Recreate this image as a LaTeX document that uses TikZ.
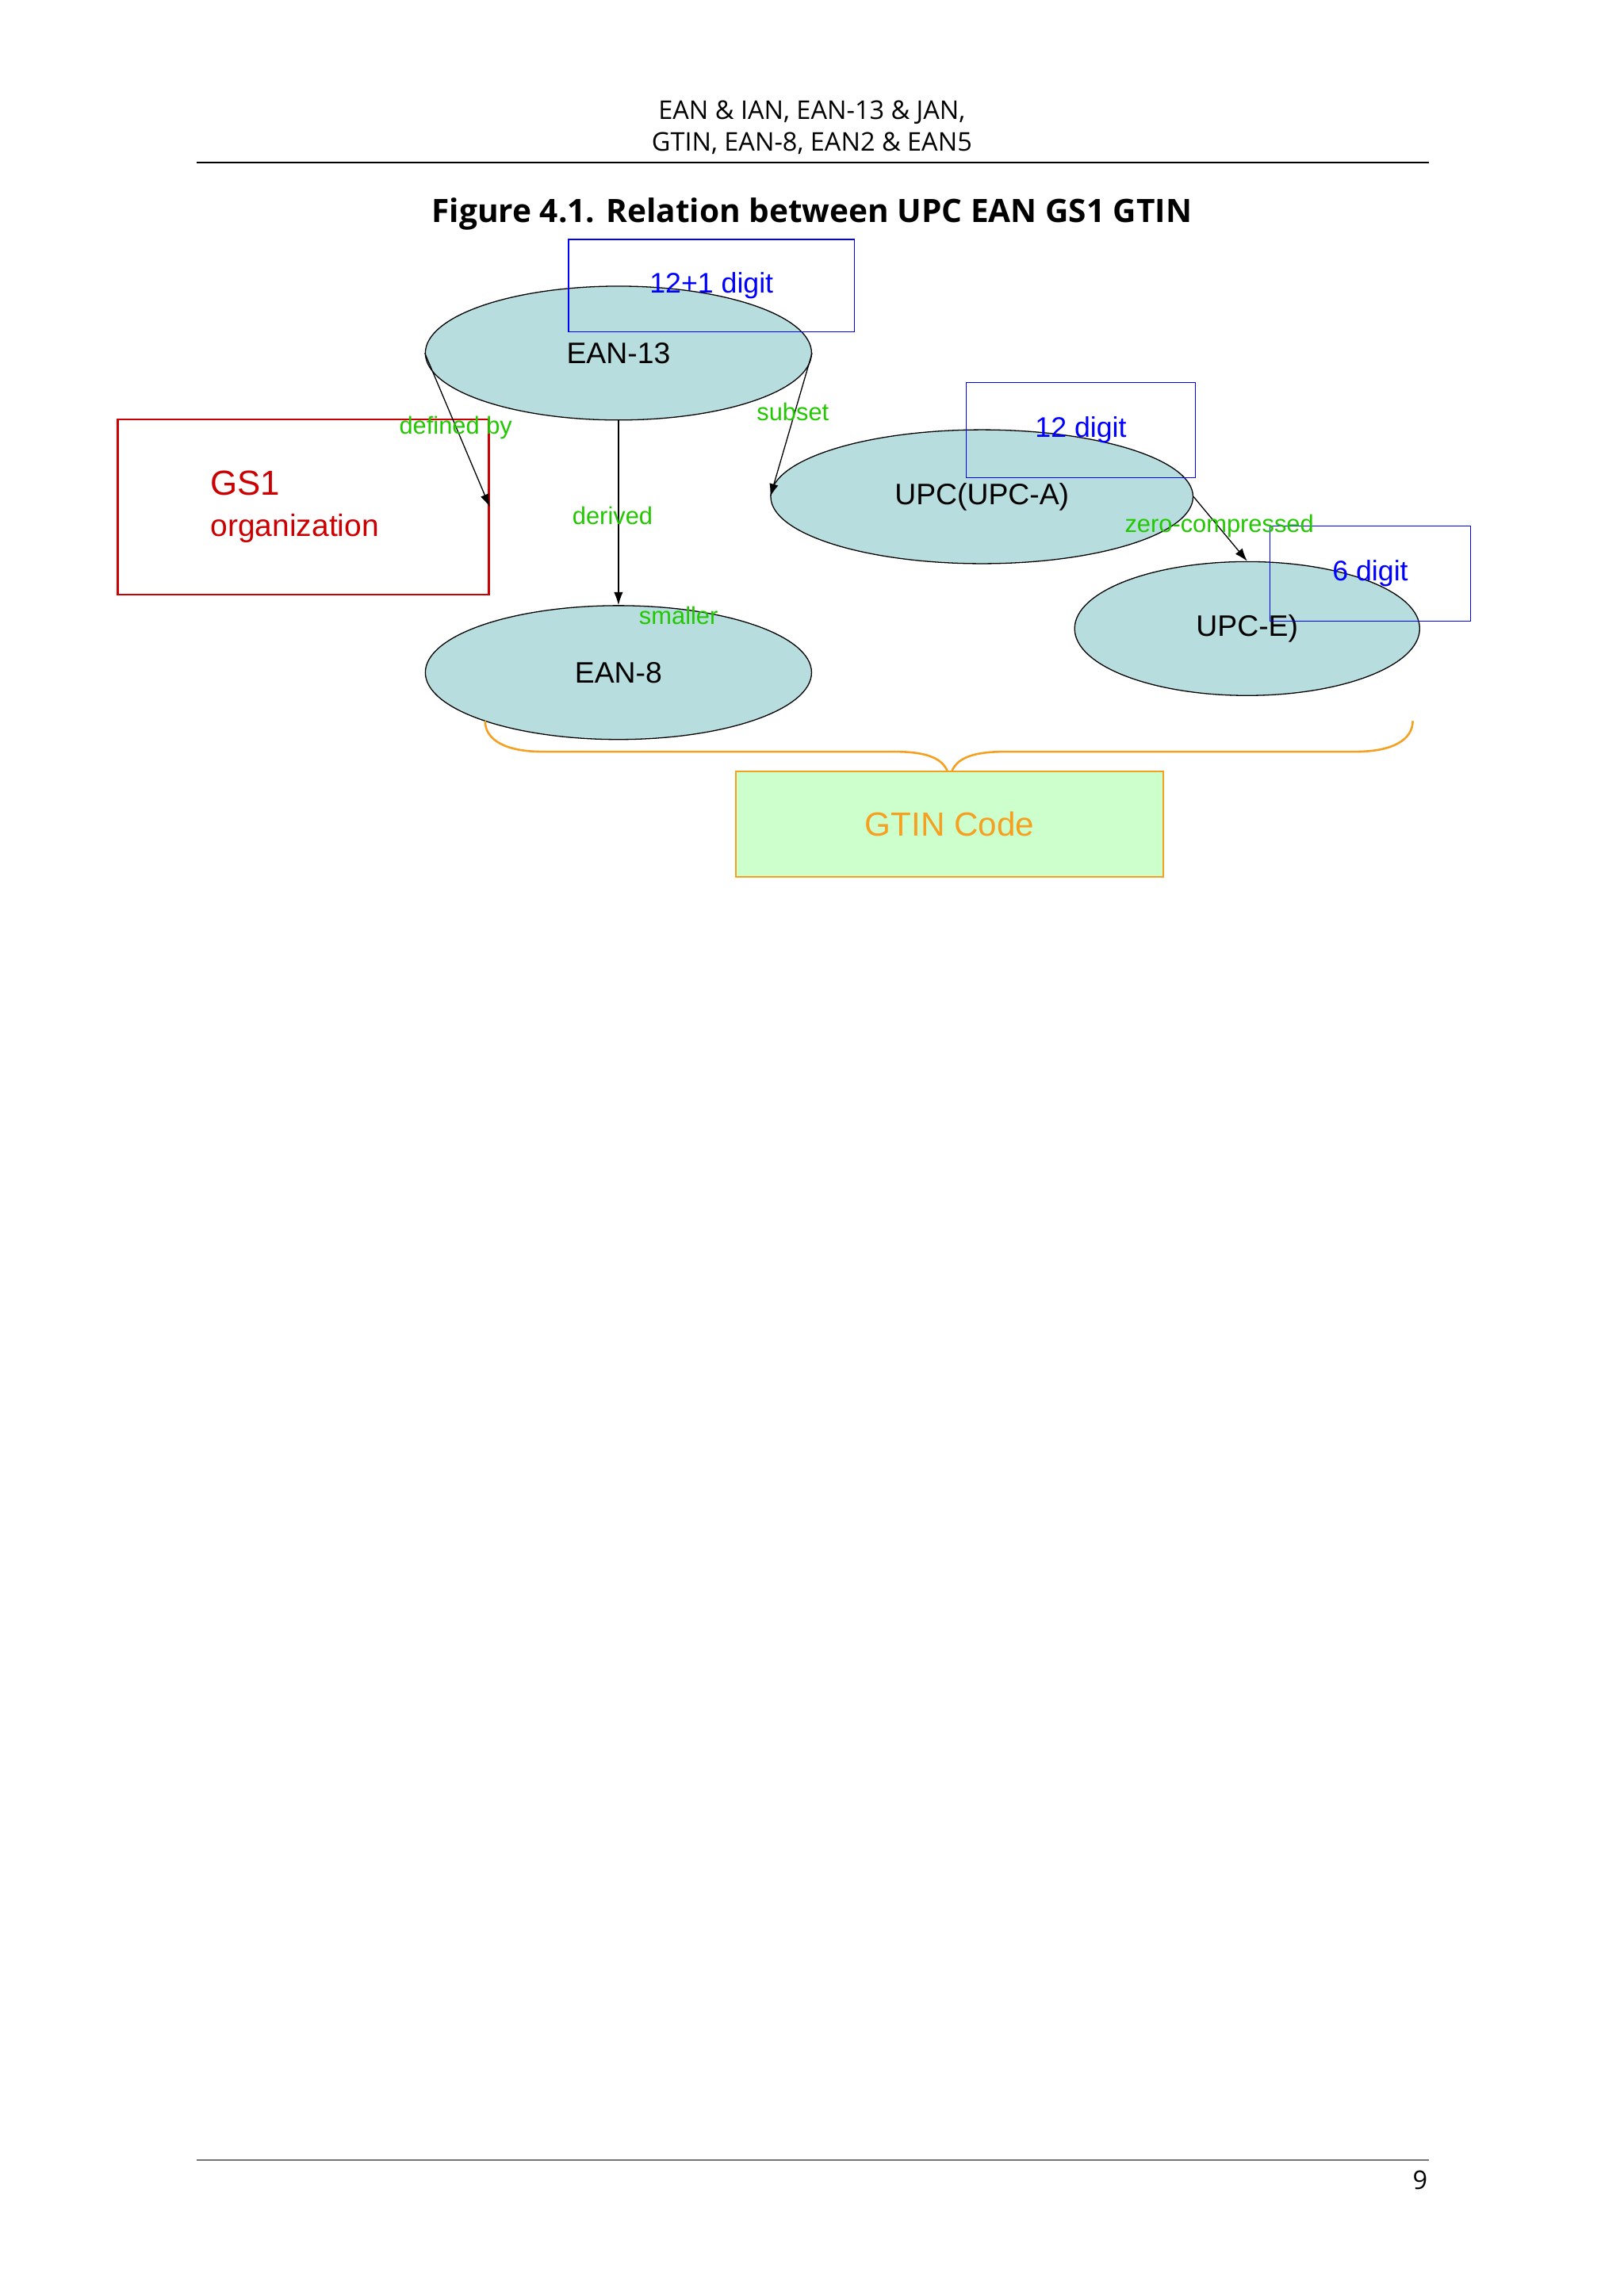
\documentclass[tikz,border=0pt]{standalone}
\usepackage{fontspec}
\setmainfont{Liberation Sans}
\newfontfamily\hdr{Open Sans}
\usetikzlibrary{arrows.meta,shapes.geometric}
\definecolor{ellf}{HTML}{B7DDDF}
\definecolor{grn}{HTML}{22C800}
\definecolor{org}{HTML}{F5A020}
\begin{document}
\begin{tikzpicture}[x=0.02cm,y=-0.02cm,
  ell/.style={draw,ellipse,fill=ellf,minimum width=150,minimum height=52,inner sep=0pt,font=\fontsize{11.5}{13}\selectfont},
  bluebox/.style={draw=blue,text=blue,inner sep=0pt,font=\fontsize{11}{13}\selectfont},
  lab/.style={text=grn,font=\fontsize{9.5}{11}\selectfont,inner sep=0pt},
  arr/.style={-{Latex[length=5pt,width=3.5pt]},thin}]
\useasboundingbox[fill=white] (0,0) rectangle (1108,1567);
\node[font=\hdr\fontsize{10}{12.5}\selectfont,align=center] (hd) at (554,87) {EAN \& IAN, EAN-13 \& JAN,\\GTIN, EAN-8, EAN2 \& EAN5};
\draw[thin] (134,111) -- (975,111);
\node[font=\hdr\bfseries\fontsize{12.5}{14}\selectfont] (tt) at (554,146) {Figure 4.1. Relation between UPC EAN GS1 GTIN};
\node[ell] (e13) at (422,241) {EAN-13};
\node[ell] (e8) at (422,459) {EAN-8};
\node[ell,minimum width=164] (upc) at (670,339) {UPC(UPC-A)};
\node[ell,minimum width=134] (upce) at (851,429) {UPC-E)};
\node[bluebox,minimum width=111,minimum height=36] (b1) at (485.5,195) {12+1 digit};
\node[bluebox,minimum width=89,minimum height=37] (b2) at (737.5,293.5) {12 digit};
\node[bluebox,minimum width=78,minimum height=37] (b3) at (935,391.5) {6 digit};
\node[draw=red!80!black,thick,text=red!80!black,minimum width=144,minimum height=68,inner sep=0pt,align=left,font=\fontsize{12}{16}\selectfont] (gs) at (207,346) {{\fontsize{13.5}{16}\selectfont GS1}\\organization\phantom{g}};
\draw[arr] (e13.west) -- (gs.east);
\draw[arr] (e13.south) -- (e8.north);
\draw[arr] (e13.east) -- (upc.west);
\draw[arr] (upc.east) -- (upce.north);
\node[lab] (l1) at (311,292) {defined by};
\node[lab] (l2) at (418,352) {derived};
\node[lab] (l3) at (463,420) {smaller};
\node[lab] (l4) at (541,281) {subset};
\node[lab] (l5) at (832,359) {zero-compressed};
\draw[org,thick] (331,492) .. controls (331,505) and (345,513) .. (370,513) -- (610,513) .. controls (638,513) and (648,520) .. (648,535)
  .. controls (648,520) and (658,513) .. (686,513) -- (925,513) .. controls (950,513) and (964,505) .. (964,492);
\node[draw=org,thick,fill=green!20,text=org,minimum width=166,minimum height=41,inner sep=0pt,font=\fontsize{13}{15}\selectfont] (gt) at (648,562.5) {GTIN Code\hspace{18pt}};
\draw[thin] (134,1474) -- (975,1474);
\node[font=\hdr\fontsize{10}{12}\selectfont] (pg) at (969,1488) {9};
\end{tikzpicture}
\end{document}
